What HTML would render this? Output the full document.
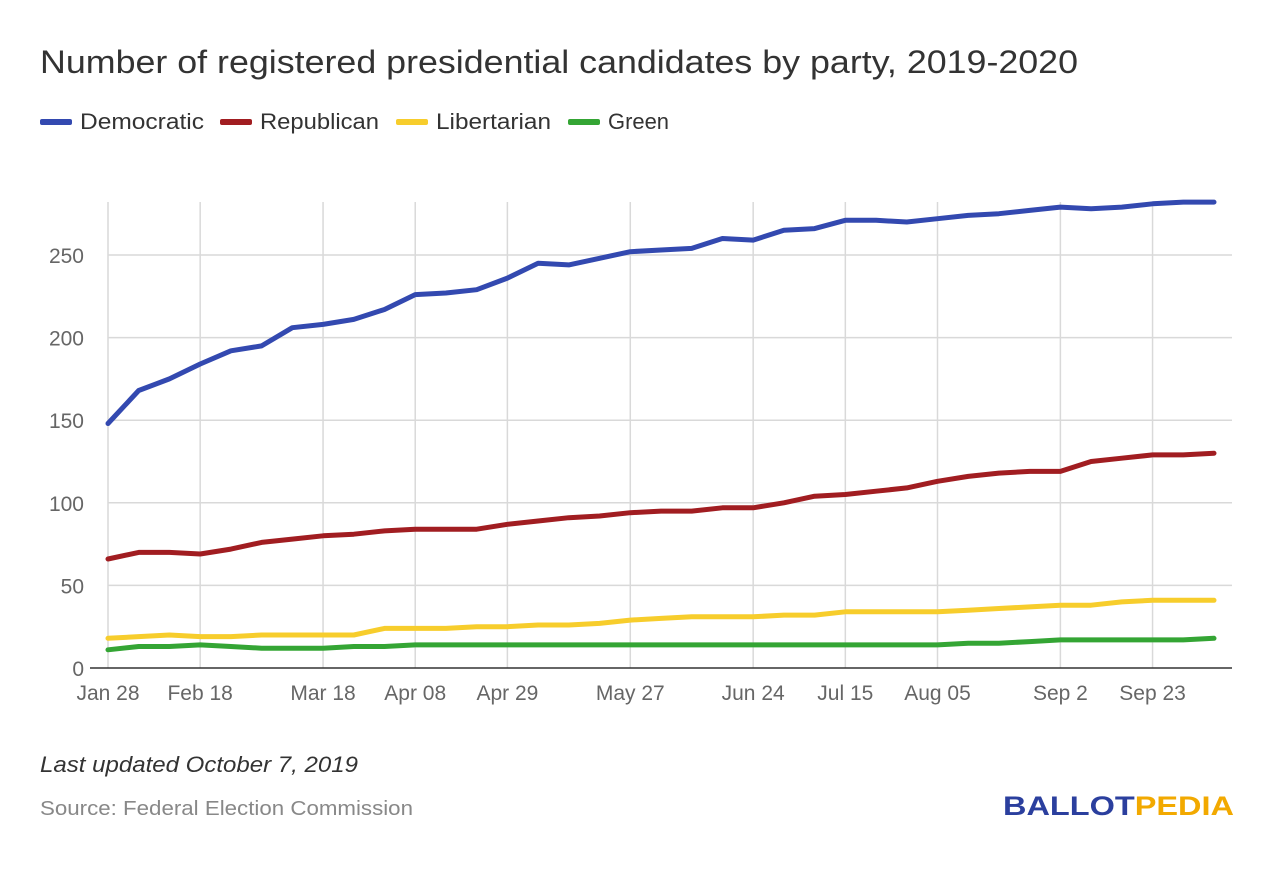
<!DOCTYPE html>
<html><head><meta charset="utf-8">
<style>
body{margin:0;background:#fff;width:1280px;height:880px;overflow:hidden;font-family:"Liberation Sans",sans-serif;}
</style></head>
<body>
<svg id="chart" width="1280" height="880" xmlns="http://www.w3.org/2000/svg">
<text x="40" y="73" font-size="32" fill="#333" textLength="1038" lengthAdjust="spacingAndGlyphs">Number of registered presidential candidates by party, 2019-2020</text>
<g id="legend"></g>
<g id="grid"></g>
<g id="axes"></g>
<g id="series"></g>
<text x="40" y="772" font-size="22" font-style="italic" fill="#333" textLength="318" lengthAdjust="spacingAndGlyphs">Last updated October 7, 2019</text>
<text x="40" y="815" font-size="20" fill="#888" textLength="373" lengthAdjust="spacingAndGlyphs">Source: Federal Election Commission</text>
<text x="1003" y="815" font-size="27" font-weight="bold" textLength="231" lengthAdjust="spacingAndGlyphs"><tspan fill="#2b3f9e">BALLOT</tspan><tspan fill="#f2a900">PEDIA</tspan></text>
</svg>
<script>
const tickLabels = ["Jan 28","Feb 18","Mar 18","Apr 08","Apr 29","May 27","Jun 24","Jul 15","Aug 05","Sep 2","Sep 23"];
const tickIndex = [0,3,7,10,13,17,21,24,27,31,34];
const yTicks = [0,50,100,150,200,250];
const seriesNames = ["Democratic","Republican","Libertarian","Green"];
const seriesColors = ["#3349b0","#a11d21","#f7cd2c","#34a534"];
const democratic = [148,168,175,184,192,195,206,208,211,217,226,227,229,236,245,244,248,252,253,254,260,259,265,266,271,271,270,272,274,275,277,279,278,279,281,282,282];
const republican = [66,70,70,69,72,76,78,80,81,83,84,84,84,87,89,91,92,94,95,95,97,97,100,104,105,107,109,113,116,118,119,119,125,127,129,129,130];
const libertarian = [18,19,20,19,19,20,20,20,20,24,24,24,25,25,26,26,27,29,30,31,31,31,32,32,34,34,34,34,35,36,37,38,38,40,41,41,41];
const green = [11,13,13,14,13,12,12,12,13,13,14,14,14,14,14,14,14,14,14,14,14,14,14,14,14,14,14,14,15,15,16,17,17,17,17,17,18];
const allSeries = [democratic, republican, libertarian, green];

const NS = "http://www.w3.org/2000/svg";
const x0 = 108, x1 = 1214, yBase = 668, yTop = 202;
const n = democratic.length;
function xs(i){ return x0 + (x1 - x0) * i / (n - 1); }
function ys(v){ return yBase - v * (668 - 255) / 250; }
function mk(tag, attrs, parent){ const e = document.createElementNS(NS, tag); for (const k in attrs) e.setAttribute(k, attrs[k]); parent.appendChild(e); return e; }

const grid = document.getElementById('grid'), axes = document.getElementById('axes'), ser = document.getElementById('series'), leg = document.getElementById('legend');
yTicks.forEach(v => {
  if (v > 0) {
    const l = mk('line', {x1: x0, x2: 1232, y1: ys(v), y2: ys(v), stroke: '#d9d9d9', 'stroke-width': 1.5}, grid);
    
    
  }
  const t = mk('text', {x: 84, y: ys(v) + 8, 'font-size': 21, fill: '#666', 'text-anchor': 'end'}, axes);
  t.textContent = v;
  
  
});
tickIndex.forEach((idx, k) => {
  const l = mk('line', {x1: xs(idx), x2: xs(idx), y1: yTop, y2: yBase, stroke: '#d9d9d9', 'stroke-width': 1.5}, grid);
  
  
  const t = mk('text', {x: xs(idx), y: 700, 'font-size': 21, fill: '#666', 'text-anchor': 'middle'}, axes);
  t.textContent = tickLabels[k];
  
  
});
const base = mk('line', {x1: 90, x2: 1232, y1: yBase, y2: yBase, stroke: '#333', 'stroke-width': 1.5}, axes);



const drawOrder = [3, 2, 1, 0];
drawOrder.forEach(s => {
  const arr = allSeries[s];
  const d = arr.map((v, i) => (i ? 'L' : 'M') + xs(i).toFixed(1) + ',' + ys(v).toFixed(1)).join(' ');
  const p = mk('path', {d: d, fill: 'none', stroke: seriesColors[s], 'stroke-width': 5, 'stroke-linejoin': 'round', 'stroke-linecap': 'round'}, ser);
  
  
});

const legX = [40, 220, 396, 568];
const legW = [124, 119, 115, 61];
seriesNames.forEach((name, s) => {
  const g = mk('g', {}, leg);
  
  
  mk('rect', {x: legX[s], y: 119, width: 32, height: 6, rx: 2, fill: seriesColors[s]}, g);
  const t = mk('text', {x: legX[s] + 40, y: 129, 'font-size': 22, fill: '#333', textLength: legW[s], lengthAdjust: 'spacingAndGlyphs'}, g);
  t.textContent = name;
});
</script>
</body></html>
